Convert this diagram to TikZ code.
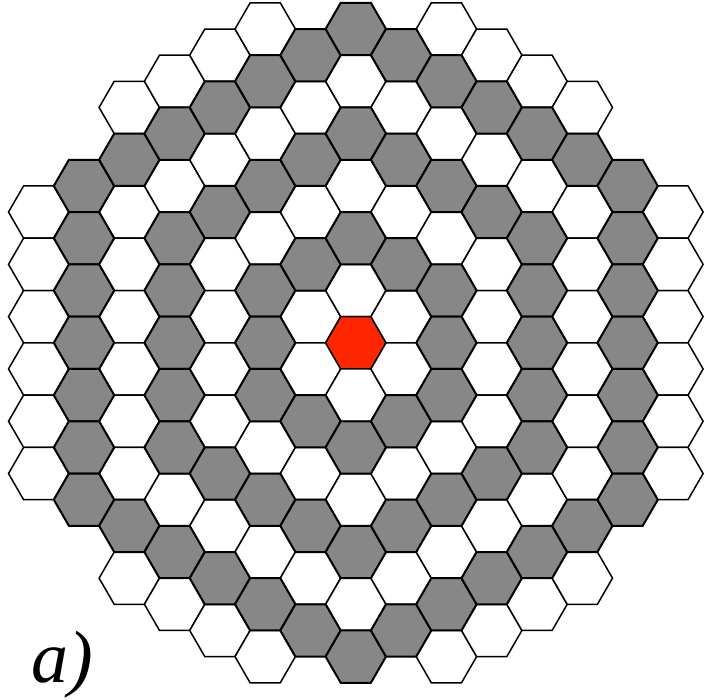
\documentclass[tikz,border=0pt]{standalone}
\usepackage{fontspec}
\newfontfamily\labelfont{Liberation Serif}
\definecolor{cellgrey}{RGB}{135,135,135}
\definecolor{cellred}{RGB}{255,38,0}
\begin{document}
\begin{tikzpicture}[x=1pt,y=-1pt,
  hexcell/.style={draw=black,line width=1.5pt,line join=miter},
  greycell/.style={hexcell,line width=2pt},
  labeltext/.style={anchor=base west,inner sep=0pt,font=\labelfont\itshape\fontsize{74}{74}\selectfont}]
\useasboundingbox[fill=white] (0,0) rectangle (709,699);
\def\R{30.2}\def\H{26.15}
\foreach \pass in {1,2}{
\foreach \q in {-7,...,7}{
  \foreach \r in {-7,...,7}{
    \pgfmathtruncatemacro{\s}{-\q-\r}
    \pgfmathtruncatemacro{\d}{max(abs(\q),abs(\r),abs(\s))}
    \pgfmathtruncatemacro{\m}{min(abs(\q),abs(\r),abs(\s))}
    \pgfmathtruncatemacro{\ex}{(\d>7) ? 1 : ((\d==7) ? ((\m==0) ? 1 : ((\m==1) ? ((abs(\q)==7) ? 0 : 1) : 0)) : 0)}
    \ifnum\ex=0
      \pgfmathtruncatemacro{\pty}{mod(\d,2)}
      \pgfmathtruncatemacro{\isgrey}{(\d>0 && \pty==0) ? 2 : 1}
      \ifnum\isgrey=\pass
        \ifnum\d=0 \def\fc{cellred}\def\st{hexcell}\else
          \ifnum\pty=0 \def\fc{cellgrey}\def\st{greycell}\else \def\fc{white}\def\st{hexcell}\fi
        \fi
        \pgfmathsetmacro{\cx}{355.8+45.3*\q}
        \pgfmathsetmacro{\cy}{342.8+52.3*(\r+\q/2)}
        \filldraw[\st,fill=\fc] (\cx+\R,\cy) -- (\cx+\R/2,\cy+\H) -- (\cx-\R/2,\cy+\H)
          -- (\cx-\R,\cy) -- (\cx-\R/2,\cy-\H) -- (\cx+\R/2,\cy-\H) -- cycle;
      \fi
    \fi
  }
}
}
\node[labeltext] (lbl) at (31,682) {a)};
\end{tikzpicture}
\end{document}
